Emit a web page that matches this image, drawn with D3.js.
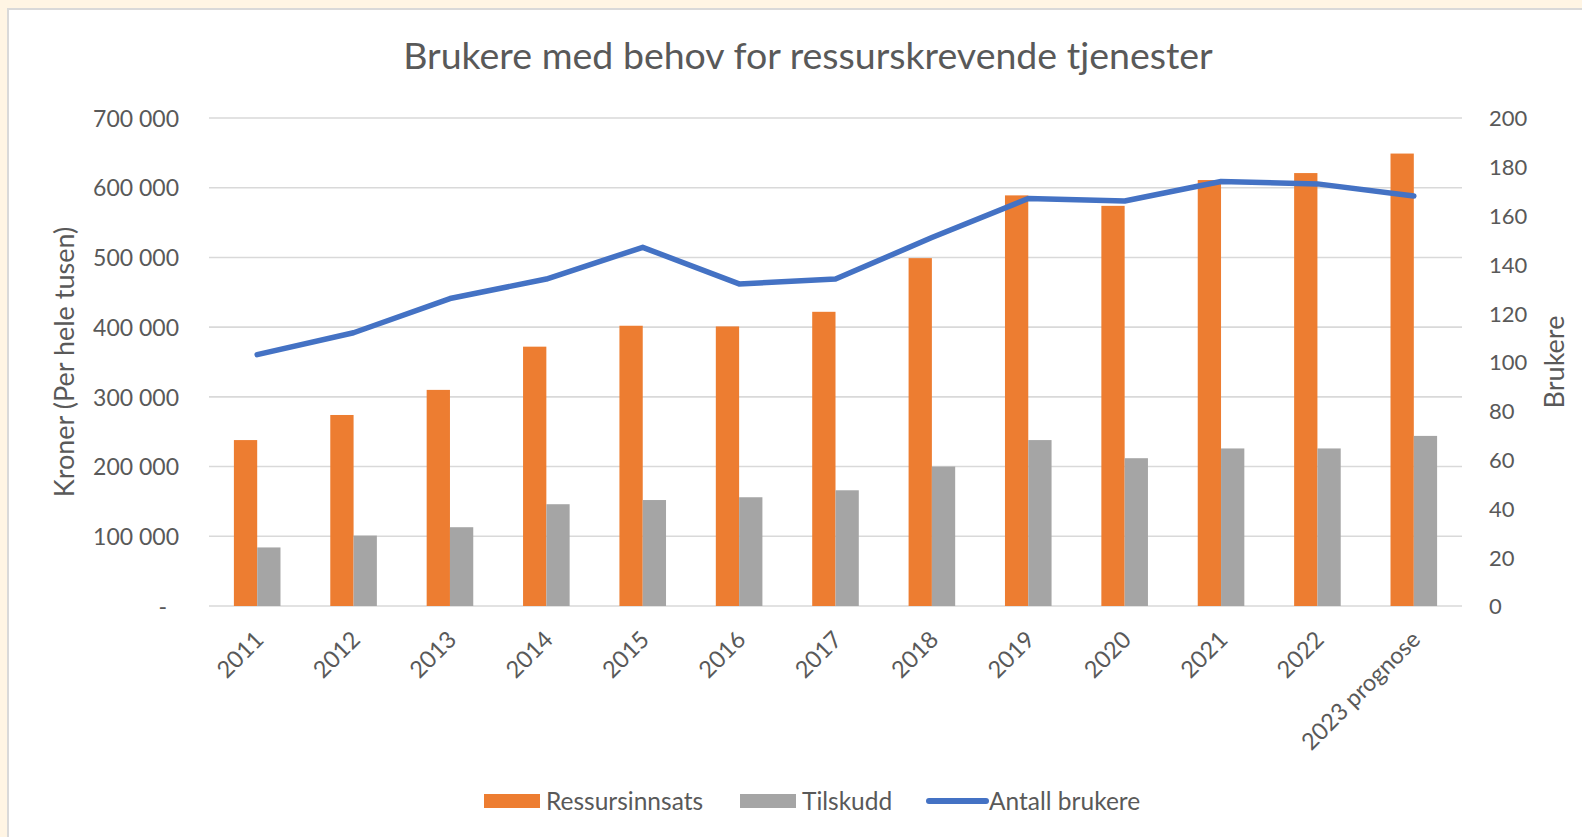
<!DOCTYPE html>
<html>
<head>
<meta charset="utf-8">
<script src="https://cdn.jsdelivr.net/npm/d3@7"></script>
<style>
  body { margin: 0; background: #fff5e4; }
  svg { display: block; font-family: Lato, "Open Sans", sans-serif; }
</style>
</head>
<body>
<div id="chart"></div>
<script>
// data
var years = ["2011", "2012", "2013", "2014", "2015", "2016", "2017", "2018", "2019", "2020", "2021", "2022", "2023 prognose"];
var ressursinnsats = [238000, 274000, 310000, 372000, 402000, 401000, 422000, 499000, 589000, 574000, 611000, 621000, 649000];
var tilskudd = [84000, 101000, 113000, 146000, 152000, 156000, 166000, 200000, 238000, 212000, 226000, 226000, 244000];
var antallBrukere = [103, 112, 126, 134, 147, 132, 134, 151, 167, 166, 174, 173, 168];
var leftTicks = [0, 100000, 200000, 300000, 400000, 500000, 600000, 700000];
var rightTicks = [0, 20, 40, 60, 80, 100, 120, 140, 160, 180, 200];
var seriesNames = ["Ressursinnsats", "Tilskudd", "Antall brukere"];
var colors = ["#ed7d31", "#a5a5a5", "#4472c4"];

var W = 1582, H = 837;
var margin = { top: 118, right: 120, bottom: 231, left: 209 };
var textCol = "#595959", gridCol = "#d9d9d9";
var font = "Lato, 'Open Sans', sans-serif";

var svg = d3.select("#chart").append("svg")
    .attr("width", W)
    .attr("height", H);

// white chart panel
svg.append("rect")
    .attr("x", 8).attr("y", 9)
    .attr("width", W).attr("height", H)
    .attr("fill", "#fff")
    .attr("stroke", "#d9d9d9")
    .attr("stroke-width", 2);

var x0 = margin.left, x1 = W - margin.right, y0 = H - margin.bottom, y1 = margin.top;

var pad = 0.5166;
var x = d3.scaleBand().domain(years).range([x0, x1]).paddingInner(pad).paddingOuter(pad / 2);
var xs = d3.scaleBand().domain([0, 1]).range([0, x.bandwidth()]);
var yL = d3.scaleLinear().domain([0, 700000]).range([y0, y1]);
var yR = d3.scaleLinear().domain([0, 200]).range([y0, y1]);

var loc = d3.formatLocale({ decimal: ",", thousands: " ", grouping: [3], currency: ["", ""] });
var fmt = loc.format(",");

// gridlines
svg.append("g").selectAll("line")
    .data(leftTicks)
    .join("line")
    .attr("x1", x0).attr("x2", x1)
    .attr("y1", d => yL(d)).attr("y2", d => yL(d))
    .attr("stroke", gridCol)
    .attr("stroke-width", 1.6);

// left axis
var leftAxis = svg.append("g")
    .attr("transform", "translate(" + (x0 - 30) + ",0)")
    .call(d3.axisLeft(yL).tickValues(leftTicks).tickSize(0).tickPadding(0)
        .tickFormat(d => d === 0 ? "-" : fmt(d)));
leftAxis.select(".domain").remove();
leftAxis.selectAll("text")
    .attr("fill", textCol)
    .style("font-family", font)
    .style("font-size", "23px")
    .attr("dy", "0.36em")
    .attr("x", d => d === 0 ? -12 : 0);

// right axis
var rightAxis = svg.append("g")
    .attr("transform", "translate(" + (x1 + 27) + ",0)")
    .call(d3.axisRight(yR).tickValues(rightTicks).tickSize(0).tickPadding(0));
rightAxis.select(".domain").remove();
rightAxis.selectAll("text")
    .attr("fill", textCol)
    .style("font-family", font)
    .style("font-size", "22px")
    .attr("dy", "0.36em");

// bars
var barData = [ressursinnsats, tilskudd];
barData.forEach(function(vals, s) {
    svg.append("g").selectAll("rect")
        .data(vals)
        .join("rect")
        .attr("x", (d, i) => x(years[i]) + xs(s))
        .attr("y", d => yL(d))
        .attr("width", xs.bandwidth())
        .attr("height", d => y0 - yL(d))
        .attr("fill", colors[s]);
});

// line
var line = d3.line()
    .x((d, i) => x(years[i]) + x.bandwidth() / 2)
    .y(d => yR(d));
svg.append("path")
    .datum(antallBrukere)
    .attr("d", line)
    .attr("fill", "none")
    .attr("stroke", colors[2])
    .attr("stroke-width", 5.5)
    .attr("stroke-linejoin", "round")
    .attr("stroke-linecap", "round");

// x labels
svg.append("g").selectAll("text")
    .data(years)
    .join("text")
    .attr("transform", d => "translate(" + (x(d) + x.bandwidth() / 2 + 8) + "," + (y0 + 35) + ") rotate(-45)")
    .attr("text-anchor", "end")
    .attr("fill", textCol)
    .style("font-size", "23.5px")
    .text(d => d);

// title
svg.append("text")
    .attr("x", 808).attr("y", 69)
    .attr("text-anchor", "middle")
    .attr("fill", textCol)
    .style("font-size", "37.5px")
    .text("Brukere med behov for ressurskrevende tjenester");

// axis titles
svg.append("text")
    .attr("transform", "translate(74," + (y0 + y1) / 2 + ") rotate(-90)")
    .attr("text-anchor", "middle")
    .attr("fill", textCol)
    .style("font-size", "27px")
    .text("Kroner (Per hele tusen)");
svg.append("text")
    .attr("transform", "translate(1564," + (y0 + y1) / 2 + ") rotate(-90)")
    .attr("text-anchor", "middle")
    .attr("fill", textCol)
    .style("font-size", "27px")
    .text("Brukere");

// legend
var legendX = [484, 740, 926];
var legend = svg.append("g");
seriesNames.forEach(function(name, i) {
    var g = legend.append("g").attr("transform", "translate(" + legendX[i] + ",801)");
    if (i < 2) {
        g.append("rect").attr("x", 0).attr("y", -7).attr("width", 56).attr("height", 14).attr("fill", colors[i]);
    } else {
        g.append("line").attr("x1", 3).attr("x2", 60).attr("y1", 0).attr("y2", 0)
            .attr("stroke", colors[i]).attr("stroke-width", 6).attr("stroke-linecap", "round");
    }
    g.append("text")
        .attr("x", i < 2 ? 62 : 63)
        .attr("y", 8.5)
        .attr("fill", textCol)
        .style("font-size", "24.5px")
        .text(name);
});
</script>
</body>
</html>
